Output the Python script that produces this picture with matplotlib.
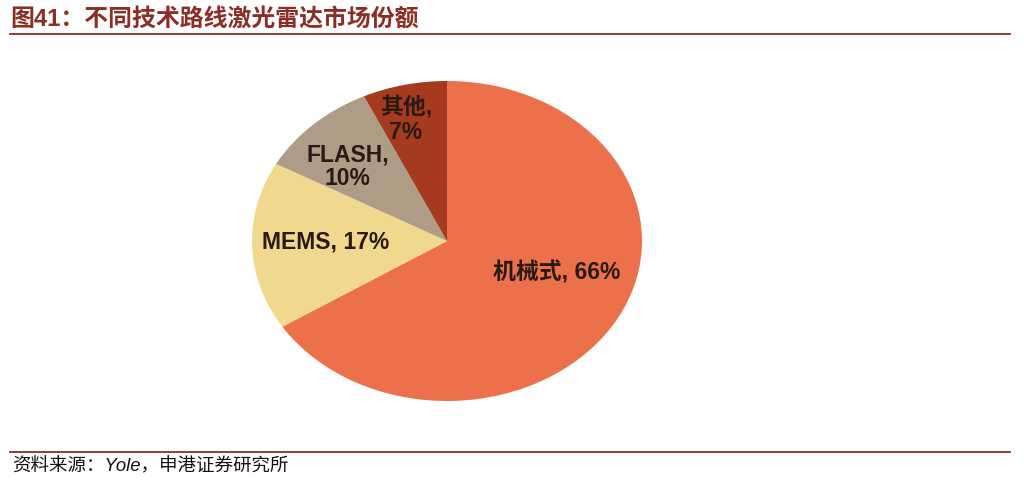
import matplotlib
matplotlib.use('Agg')
import matplotlib.pyplot as plt
from matplotlib.lines import Line2D

plt.rcParams['font.family'] = ['Liberation Sans', 'Noto Sans CJK SC', 'DejaVu Sans']

# 数据
categories = ['机械式', 'MEMS', 'FLASH', '其他']
shares = [66, 17, 10, 7]
colors = ['#EC714B', '#F0D98E', '#AE9C86', '#A53A1E']
label_texts = ['机械式, 66%', 'MEMS, 17%', 'FLASH,\n10%', '其他,\n7%']
# 标签位置（相对椭圆半径）
label_pos = [(0.56, -0.19), (-0.62, 0.0), (-0.51, 0.47), (-0.21, 0.76)]

title = '图41：不同技术路线激光雷达市场份额'
source = '资料来源：Yole，申港证券研究所'
dark_red = '#8B2E25'

W, H = 1024, 489
fig = plt.figure(figsize=(W / 100, H / 100), dpi=100)

# 饼图（拉伸成椭圆）
cx, cy, rx, ry = 447, 242, 195, 160
ax = fig.add_axes([(cx - rx) / W, 1 - (cy + ry) / H, 2 * rx / W, 2 * ry / H])
ax.pie(shares, colors=colors, startangle=90, counterclock=False,
       radius=1, wedgeprops=dict(linewidth=0))
ax.set_aspect('auto')
ax.set_xlim(-1, 1)
ax.set_ylim(-1, 1)
ax.axis('off')

for txt, (x, y) in zip(label_texts, label_pos):
    ax.text(x, y, txt, ha='center', va='center', fontsize=16.5,
            fontweight='bold', color='#2a1a14', linespacing=1.05)

# 标题和来源
fig.text(10 / W, 1 - 19 / H, title, ha='left', va='center', fontsize=17.2,
         fontweight='bold', color=dark_red)
fig.add_artist(Line2D([10 / W, 1010 / W], [1 - 35 / H, 1 - 35 / H],
                      color=dark_red, lw=1.3))
fig.add_artist(Line2D([10 / W, 1010 / W], [1 - 453 / H, 1 - 453 / H],
                      color=dark_red, lw=1.3))
fig.text(12 / W, 1 - 467 / H, source, ha='left', va='center', fontsize=13.3,
         style='italic', color='#111111')

fig.savefig('out.png', dpi=100)
